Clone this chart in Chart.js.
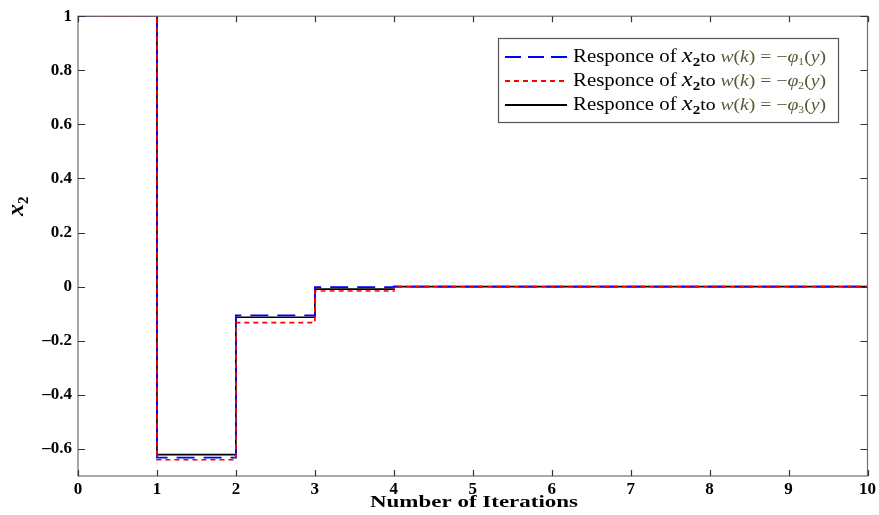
<!DOCTYPE html>
<html>
<head>
<meta charset="utf-8">
<script src="https://cdn.jsdelivr.net/npm/chart.js@4.4.1/dist/chart.umd.min.js"></script>
<style>
  html, body { margin: 0; padding: 0; background: #fff; }
  canvas { display: block; }
</style>
</head>
<body>
<canvas id="step-chart" width="879" height="515"></canvas>
<script>
// iterations k and the response of x2 for the three choices of w(k)
const iterations = [0, 1, 2, 3, 4, 5, 6, 7, 8, 9, 10];
const responsePhi1 = [1, -0.632, -0.106, -0.002, 0, 0, 0, 0, 0, 0, 0];
const responsePhi2 = [1, -0.640, -0.133, -0.016, 0, 0, 0, 0, 0, 0, 0];
const responsePhi3 = [1, -0.621, -0.113, -0.009, 0, 0, 0, 0, 0, 0, 0];
const yTickValues = [-0.6, -0.4, -0.2, 0, 0.2, 0.4, 0.6, 0.8, 1];
const xTickValues = [0, 1, 2, 3, 4, 5, 6, 7, 8, 9, 10];

const SERIF = "'Liberation Serif', 'Times New Roman', serif";

function toPoints(ys) {
  return iterations.map((x, i) => ({ x: x, y: ys[i] }));
}

// draws a row of text pieces, optionally stretched to a given width
function drawRuns(ctx, runs, x, y, width) {
  let total = 0;
  runs.forEach(r => {
    ctx.font = r.font;
    r.w = ctx.measureText(r.t).width;
    total += r.w;
  });
  const s = width ? width / total : 1;
  ctx.save();
  ctx.translate(x, y);
  ctx.scale(s, 1);
  ctx.textBaseline = 'alphabetic';
  ctx.textAlign = 'left';
  let cx = 0;
  runs.forEach(r => {
    ctx.font = r.font;
    ctx.fillStyle = r.color || '#000';
    ctx.fillText(r.t, cx, r.dy || 0);
    cx += r.w;
  });
  ctx.restore();
}

const mathColor = '#4f5f35';
function legendRuns(sub) {
  return [
    { t: 'Responce of ', font: '18px ' + SERIF },
    { t: 'x', font: 'italic 21px ' + SERIF },
    { t: '2', font: 'bold 13px ' + SERIF, dy: 4 },
    { t: 'to ', font: '17px ' + SERIF },
    { t: 'w', font: 'italic 17px ' + SERIF, color: mathColor },
    { t: '(', font: '17px ' + SERIF, color: mathColor },
    { t: 'k', font: 'italic 17px ' + SERIF, color: mathColor },
    { t: ') = \u2212', font: '17px ' + SERIF, color: mathColor },
    { t: '\u03c6', font: 'italic 17px ' + SERIF, color: mathColor },
    { t: sub, font: '10px ' + SERIF, color: mathColor, dy: 3 },
    { t: '(', font: '17px ' + SERIF, color: mathColor },
    { t: 'y', font: 'italic 17px ' + SERIF, color: mathColor },
    { t: ')', font: '17px ' + SERIF, color: mathColor }
  ];
}

const legendItems = [
  { color: '#0000ff', dash: [16, 7], sub: '1' },
  { color: '#ff0000', dash: [5, 4], sub: '2' },
  { color: '#000000', dash: [], sub: '3' }
];

const framePlugin = {
  id: 'frame',
  afterDraw(chart) {
    const ctx = chart.ctx;
    const a = chart.chartArea;
    const xs = chart.scales.x;
    const ys = chart.scales.y;

    // box around the axes
    ctx.save();
    ctx.strokeStyle = '#6e6e6e';
    ctx.lineWidth = 1.2;
    ctx.strokeRect(a.left, a.top, a.right - a.left, a.bottom - a.top);

    // inward tick marks
    ctx.strokeStyle = '#333';
    ctx.lineWidth = 1.2;
    ctx.beginPath();
    xTickValues.forEach(v => {
      const px = Math.round(xs.getPixelForValue(v)) + 0.5;
      ctx.moveTo(px, a.bottom); ctx.lineTo(px, a.bottom - 6);
      ctx.moveTo(px, a.top); ctx.lineTo(px, a.top + 6);
    });
    yTickValues.forEach(v => {
      const py = Math.round(ys.getPixelForValue(v)) + 0.5;
      ctx.moveTo(a.left, py); ctx.lineTo(a.left + 7, py);
      ctx.moveTo(a.right, py); ctx.lineTo(a.right - 7, py);
    });
    ctx.stroke();
    ctx.restore();

    // legend
    const bx = 498, by = 38, bw = 340, bh = 84;
    ctx.save();
    ctx.fillStyle = '#fff';
    ctx.fillRect(bx, by, bw, bh);
    ctx.strokeStyle = '#555';
    ctx.lineWidth = 1.2;
    ctx.strokeRect(bx + 0.5, by + 0.5, bw, bh);
    legendItems.forEach((item, i) => {
      const ly = 57 + i * 24;
      ctx.strokeStyle = item.color;
      ctx.lineWidth = 1.8;
      ctx.setLineDash(item.dash);
      ctx.beginPath();
      ctx.moveTo(505, ly);
      ctx.lineTo(567, ly);
      ctx.stroke();
      ctx.setLineDash([]);
      drawRuns(ctx, legendRuns(item.sub), 573, ly + 5, 253);
    });
    ctx.restore();

    // x axis title
    drawRuns(ctx, [{ t: 'Number of Iterations', font: 'bold 16px ' + SERIF }], 370, 507, 208);

    // y axis title, rotated
    ctx.save();
    ctx.translate(23, 216);
    ctx.rotate(-Math.PI / 2);
    drawRuns(ctx, [
      { t: 'x', font: 'italic bold 24px ' + SERIF },
      { t: '2', font: 'bold 15px ' + SERIF, dy: 5 }
    ], 0, 0);
    ctx.restore();
  }
};

new Chart(document.getElementById('step-chart'), {
  type: 'line',
  data: {
    datasets: [
      {
        label: 'Responce of x2 to w(k) = -phi2(y)',
        data: toPoints(responsePhi2),
        borderColor: '#ff0000',
        borderDash: [5, 4],
        borderWidth: 1.7,
        stepped: 'before',
        pointRadius: 0,
        order: 1
      },
      {
        label: 'Responce of x2 to w(k) = -phi1(y)',
        data: toPoints(responsePhi1),
        borderColor: '#0000ff',
        borderDash: [18, 9],
        borderWidth: 1.7,
        stepped: 'before',
        pointRadius: 0,
        order: 2
      },
      {
        label: 'Responce of x2 to w(k) = -phi3(y)',
        data: toPoints(responsePhi3),
        borderColor: '#000000',
        borderWidth: 1.7,
        stepped: 'before',
        pointRadius: 0,
        order: 3
      }
    ]
  },
  options: {
    responsive: false,
    animation: false,
    layout: { padding: { top: 15, right: 11, left: 0, bottom: 0 } },
    plugins: {
      legend: { display: false },
      tooltip: { enabled: false }
    },
    scales: {
      x: {
        type: 'linear',
        min: 0,
        max: 10,
        grid: { display: false, drawTicks: false },
        border: { display: false },
        afterBuildTicks: s => { s.ticks = xTickValues.map(v => ({ value: v })); },
        afterFit: s => { s.height = 39; },
        ticks: {
          padding: 3,
          color: '#000',
          maxRotation: 0,
          font: { family: SERIF, size: 17, weight: 'bold' }
        }
      },
      y: {
        type: 'linear',
        min: -0.7,
        max: 1,
        grid: { display: false, drawTicks: false },
        border: { display: false },
        afterBuildTicks: s => { s.ticks = yTickValues.map(v => ({ value: v })); },
        afterFit: s => { s.width = 78; },
        ticks: {
          padding: 6,
          color: '#000',
          font: { family: SERIF, size: 17, weight: 'bold' },
          callback: v => {
            const t = String(Math.round(v * 10) / 10);
            return t.replace('-', '\u2013');
          }
        }
      }
    }
  },
  plugins: [framePlugin]
});
</script>
</body>
</html>
